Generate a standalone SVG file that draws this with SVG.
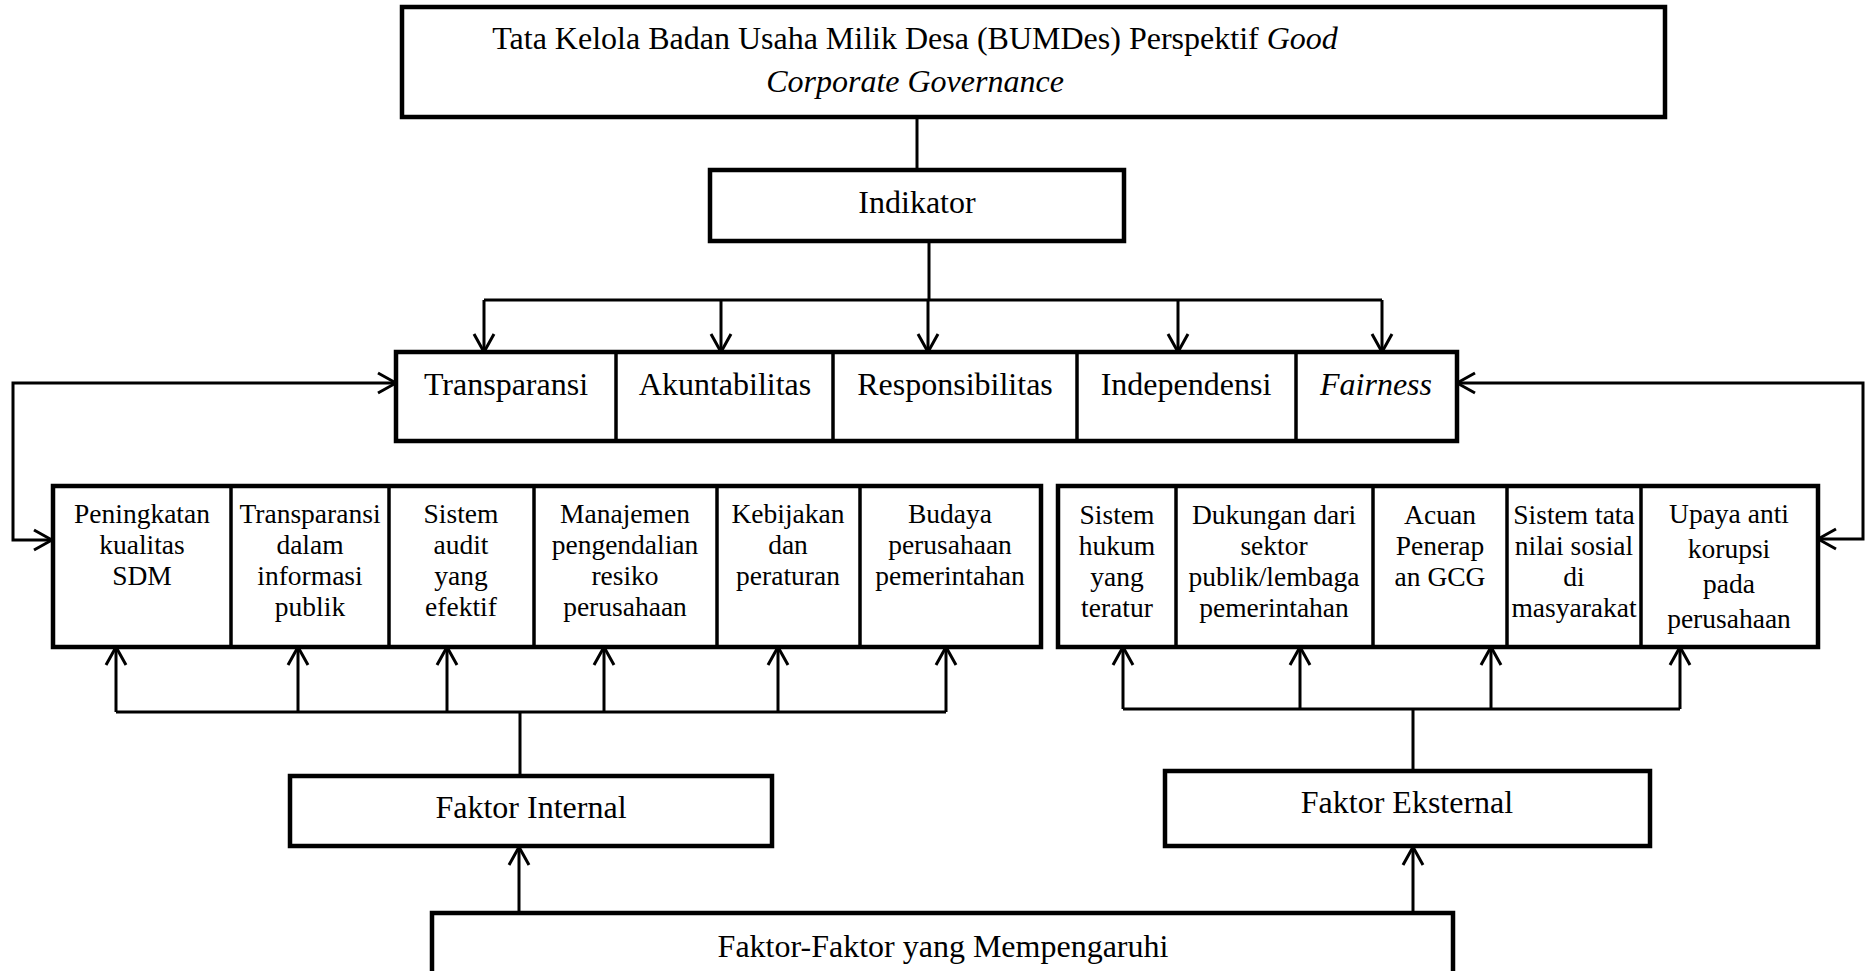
<svg xmlns="http://www.w3.org/2000/svg" width="1865" height="971" viewBox="0 0 1865 971">
<style>
  text { font-family: "Liberation Serif", "Times New Roman", serif; fill: #000; text-anchor: middle; }
  .big { font-size: 32px; }
  .sm { font-size: 27.5px; }
  .it { font-style: italic; }
  .box { fill: #fff; stroke: #000; stroke-width: 4.5; }
  .div { stroke: #000; stroke-width: 3.5; }
  .ln { fill: none; stroke: #000; stroke-width: 3; }
  .ar { fill: none; stroke: #000; stroke-width: 3; marker-end: url(#arr); }
  .ar2 { fill: none; stroke: #000; stroke-width: 3; marker-start: url(#arr); marker-end: url(#arr); }
</style>
<defs>
  <marker id="arr" viewBox="-21 -13 23 26" refX="0" refY="0" markerWidth="23" markerHeight="26" markerUnits="userSpaceOnUse" orient="auto-start-reverse">
    <path d="M-18,-10 L0,0 L-18,10" fill="none" stroke="#000" stroke-width="3"/>
  </marker>
</defs>
<rect width="1865" height="971" fill="#fff"/>

<g id="connectors">
  <path class="ln" d="M917,117 V170"/>
  <path class="ln" d="M929,241 V300 M484,300 H1382"/>
  <path class="ar" d="M484,300 V352"/>
  <path class="ar" d="M721,300 V352"/>
  <path class="ar" d="M928,300 V352"/>
  <path class="ar" d="M1178,300 V352"/>
  <path class="ar" d="M1382,300 V352"/>
  <path class="ar2" d="M52,540 H13 V383 H396"/>
  <path class="ar2" d="M1457,383 H1863 V539 H1818"/>
  <path class="ln" d="M116,712 H946 M520,712 V776"/>
  <path class="ar" d="M116,712 V647"/>
  <path class="ar" d="M298,712 V647"/>
  <path class="ar" d="M447,712 V647"/>
  <path class="ar" d="M604,712 V647"/>
  <path class="ar" d="M778,712 V647"/>
  <path class="ar" d="M946,712 V647"/>
  <path class="ln" d="M1123,709 H1680 M1413,709 V771"/>
  <path class="ar" d="M1123,709 V647"/>
  <path class="ar" d="M1300,709 V647"/>
  <path class="ar" d="M1491,709 V647"/>
  <path class="ar" d="M1680,709 V647"/>
  <path class="ar" d="M519,913 V847"/>
  <path class="ar" d="M1413,913 V847"/>
</g>

<g id="title">
  <rect class="box" x="402" y="7" width="1263" height="110"/>
  <text class="big" x="915" y="49">Tata Kelola Badan Usaha Milik Desa (BUMDes) Perspektif <tspan class="it">Good</tspan></text>
  <text class="big it" x="915" y="92">Corporate Governance</text>
</g>

<g id="indikator">
  <rect class="box" x="710" y="170" width="414" height="71"/>
  <text class="big" x="917" y="213">Indikator</text>
</g>

<g id="indikator-row">
  <rect class="box" x="396" y="352" width="1061" height="89"/>
  <line class="div" x1="616" y1="352" x2="616" y2="441"/>
  <line class="div" x1="833" y1="352" x2="833" y2="441"/>
  <line class="div" x1="1077" y1="352" x2="1077" y2="441"/>
  <line class="div" x1="1296" y1="352" x2="1296" y2="441"/>
</g>
<g id="transparansi"><text class="big" x="506" y="395">Transparansi</text></g>
<g id="akuntabilitas"><text class="big" x="725" y="395">Akuntabilitas</text></g>
<g id="responsibilitas"><text class="big" x="955" y="395">Responsibilitas</text></g>
<g id="independensi"><text class="big" x="1186" y="395">Independensi</text></g>
<g id="fairness"><text class="big it" x="1376" y="395">Fairness</text></g>

<g id="internal-group">
  <rect class="box" x="53" y="486" width="988" height="161"/>
  <line class="div" x1="231" y1="486" x2="231" y2="647"/>
  <line class="div" x1="389" y1="486" x2="389" y2="647"/>
  <line class="div" x1="534" y1="486" x2="534" y2="647"/>
  <line class="div" x1="717" y1="486" x2="717" y2="647"/>
  <line class="div" x1="860" y1="486" x2="860" y2="647"/>
</g>
<g id="sdm"><text class="sm" x="142" y="523">Peningkatan<tspan x="142" y="554">kualitas</tspan><tspan x="142" y="585">SDM</tspan></text></g>
<g id="informasi"><text class="sm" x="310" y="523">Transparansi<tspan x="310" y="554">dalam</tspan><tspan x="310" y="585">informasi</tspan><tspan x="310" y="616">publik</tspan></text></g>
<g id="audit"><text class="sm" x="461" y="523">Sistem<tspan x="461" y="554">audit</tspan><tspan x="461" y="585">yang</tspan><tspan x="461" y="616">efektif</tspan></text></g>
<g id="resiko"><text class="sm" x="625" y="523">Manajemen<tspan x="625" y="554">pengendalian</tspan><tspan x="625" y="585">resiko</tspan><tspan x="625" y="616">perusahaan</tspan></text></g>
<g id="kebijakan"><text class="sm" x="788" y="523">Kebijakan<tspan x="788" y="554">dan</tspan><tspan x="788" y="585">peraturan</tspan></text></g>
<g id="budaya"><text class="sm" x="950" y="523">Budaya<tspan x="950" y="554">perusahaan</tspan><tspan x="950" y="585">pemerintahan</tspan></text></g>

<g id="external-group">
  <rect class="box" x="1058" y="486" width="760" height="161"/>
  <line class="div" x1="1176" y1="486" x2="1176" y2="647"/>
  <line class="div" x1="1373" y1="486" x2="1373" y2="647"/>
  <line class="div" x1="1507" y1="486" x2="1507" y2="647"/>
  <line class="div" x1="1641" y1="486" x2="1641" y2="647"/>
</g>
<g id="hukum"><text class="sm" x="1117" y="524">Sistem<tspan x="1117" y="555">hukum</tspan><tspan x="1117" y="586">yang</tspan><tspan x="1117" y="617">teratur</tspan></text></g>
<g id="dukungan"><text class="sm" x="1274" y="524">Dukungan dari<tspan x="1274" y="555">sektor</tspan><tspan x="1274" y="586">publik/lembaga</tspan><tspan x="1274" y="617">pemerintahan</tspan></text></g>
<g id="acuan"><text class="sm" x="1440" y="524">Acuan<tspan x="1440" y="555">Penerap</tspan><tspan x="1440" y="586">an GCG</tspan></text></g>
<g id="sosial"><text class="sm" x="1574" y="524">Sistem tata<tspan x="1574" y="555">nilai sosial</tspan><tspan x="1574" y="586">di</tspan><tspan x="1574" y="617">masyarakat</tspan></text></g>
<g id="korupsi"><text class="sm" x="1729" y="523">Upaya anti<tspan x="1729" y="558">korupsi</tspan><tspan x="1729" y="593">pada</tspan><tspan x="1729" y="628">perusahaan</tspan></text></g>

<g id="faktor-internal">
  <rect class="box" x="290" y="776" width="482" height="70"/>
  <text class="big" x="531" y="818">Faktor Internal</text>
</g>
<g id="faktor-eksternal">
  <rect class="box" x="1165" y="771" width="485" height="75"/>
  <text class="big" x="1407" y="813">Faktor Eksternal</text>
</g>
<g id="faktor-faktor">
  <rect class="box" x="432" y="913" width="1021" height="75"/>
  <text class="big" x="943" y="957">Faktor-Faktor yang Mempengaruhi</text>
</g>
</svg>
